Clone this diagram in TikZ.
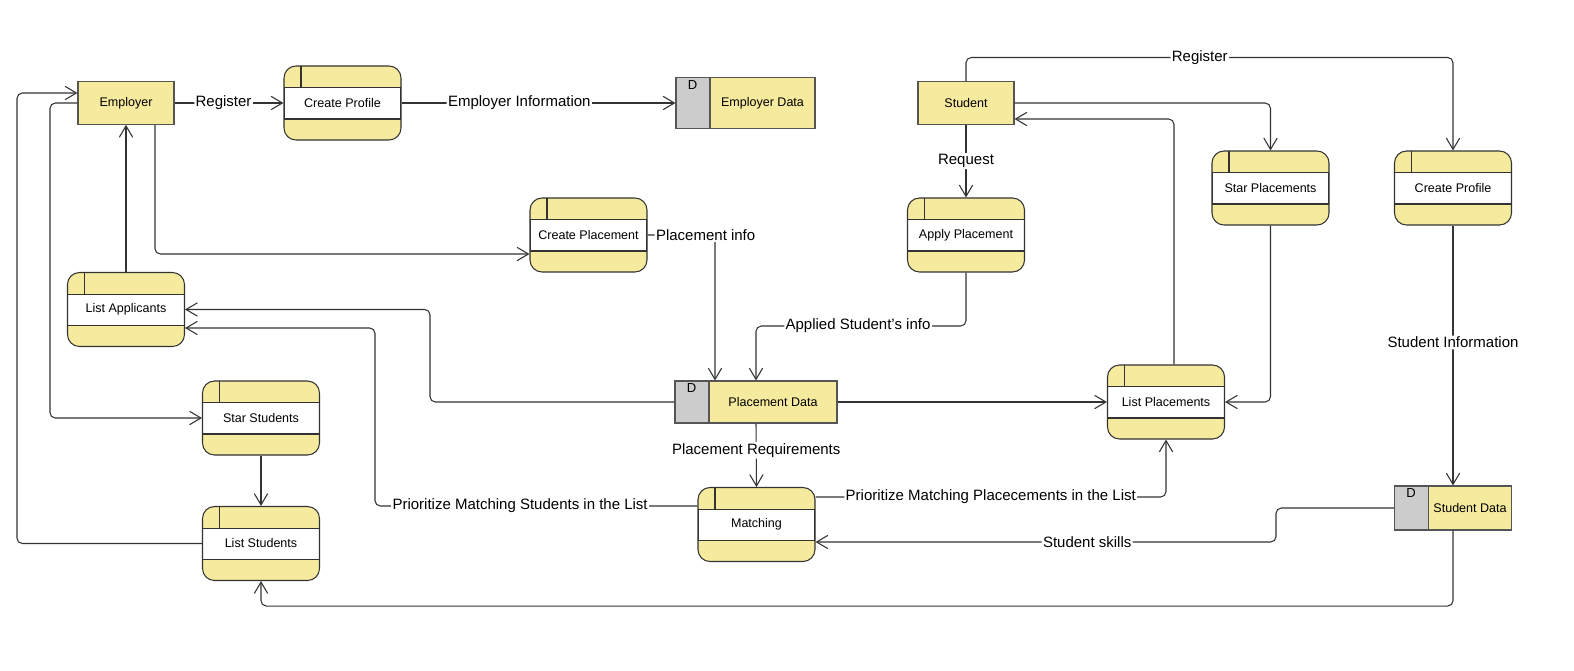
\documentclass[tikz,border=0pt]{standalone}
\usepackage{fontspec}
\setmainfont{Liberation Sans}
\usetikzlibrary{calc,positioning,arrows.meta}
\definecolor{dfdyellow}{RGB}{245,234,157}
\definecolor{dfdgray}{RGB}{204,204,204}
\definecolor{dfdline}{RGB}{51,51,51}
\definecolor{dfdbox}{RGB}{85,85,85}

\tikzset{
    entity/.style={draw=dfdbox, fill=dfdyellow, minimum width=72pt, minimum height=32pt,
        inner sep=0pt, font=\fontsize{9.4}{11}\selectfont},
    proc/.style={draw=dfdline, fill=dfdyellow, rounded corners=9pt, minimum width=87.75pt,
        minimum height=55.5pt, inner sep=0pt, font=\fontsize{9.4}{11}\selectfont,
        path picture={
            \coordinate (ppnw) at (path picture bounding box.north west);
            \coordinate (ppse) at (path picture bounding box.south east);
            \filldraw[fill=white, sharp corners] ($(ppnw)+(0pt,-16.2pt)$) rectangle ($(ppse)+(0pt,15.75pt)$);
            \draw[sharp corners] ($(ppnw)+(12.75pt,0pt)$) -- ++(0pt,-16.2pt);
        }},
    store/.style={draw=dfdbox, fill=dfdyellow, inner sep=0pt, font=\fontsize{9.4}{11}\selectfont,
        path picture={
            \coordinate (ppnw) at (path picture bounding box.north west);
            \coordinate (ppsw) at (path picture bounding box.south west);
            \filldraw[fill=dfdgray] (ppnw) rectangle ($(ppsw)+(25.5pt,0pt)$);
        }},
    dtag/.style={anchor=north, inner sep=0pt, font=\fontsize{9.8}{11}\selectfont},
    flow/.style={draw=dfdline, rounded corners=4pt, -{Straight Barb[length=8.5pt,width=10pt]}},
    lbl/.style={fill=white, inner sep=1pt, font=\fontsize{11.25}{13}\selectfont}
}

\begin{document}
\begin{tikzpicture}[x=0.75pt, y=-0.75pt, line width=0.8pt]
    \useasboundingbox (0,0) rectangle (1574,671);

    % entities
    \node[entity] (employer) at (126,103) {Employer};
    \node[entity] (student) at (966,103) {Student};

    % processes
    \node[proc] (cprofE) at (342.5,103) {Create Profile};
    \node[proc] (cplace) at (588.5,235) {Create Placement};
    \node[proc] (aplace) at (966,235) {Apply Placement};
    \node[proc] (lapp) at (126,309.5) {List Applicants};
    \node[proc] (sstud) at (261,418) {Star Students};
    \node[proc] (lstud) at (261,543.5) {List Students};
    \node[proc] (match) at (756.5,524.5) {Matching};
    \node[proc] (splace) at (1270.5,188) {Star Placements};
    \node[proc] (cprofS) at (1453,188) {Create Profile};
    \node[proc] (lplace) at (1166,402) {List Placements};

    % data stores
    \node[store, minimum width=104.25pt, minimum height=38.25pt] (edata) at (745.5,103)
        {\hspace*{25.5pt}Employer Data};
    \node[store, minimum width=121.5pt, minimum height=31.5pt] (pdata) at (756,402)
        {\hspace*{25.5pt}Placement Data};
    \node[store, minimum width=87.75pt, minimum height=33pt] (sdata) at (1453,508)
        {\hspace*{25.5pt}Student Data};
    \node[dtag] (edataD) at ($(edata.north west)+(17,3)$) {D};
    \node[dtag] (pdataD) at ($(pdata.north west)+(17,3)$) {D};
    \node[dtag] (sdataD) at ($(sdata.north west)+(17,3)$) {D};

    % employer side
    \draw[flow] (employer.east) -- node[lbl,pos=0.45] {Register} (cprofE.west);
    \draw[flow] (cprofE.east) -- node[lbl,pos=0.43] {Employer Information} (edata.west);
    \draw[flow] ($(employer.south)+(29,0)$) |- ($(cplace.west)+(0,19)$);
    \draw[flow] (lapp.north) -- (employer.south);
    \draw[flow] (employer.west) -| (50,418) -- (sstud.west);
    \draw[flow] (lstud.west) -| (17,93) -- ($(employer.west)+(0,-10)$);
    \draw[flow] (sstud.south) -- (lstud.north);
    \draw[flow] (pdata.west) -| (430,309.5) -- (lapp.east);
    \draw[flow] ($(match.west)+(0,-18.5)$) -- node[lbl,pos=0.55]
        {Prioritize Matching Students in the List} (375,506) |- ($(lapp.east)+(0,18.5)$);
    \draw[flow] (cplace.east) -| node[lbl,pos=0.5,xshift=-7pt] {Placement info}
        ($(pdata.north)+(-41,0)$);

    % student side
    \draw[flow] (student.south) -- node[lbl] {Request} (aplace.north);
    \draw[flow] (aplace.south) |- (858,326) node[lbl] {Applied Student's info} -| (pdata.north);
    \draw[flow] (pdata.south) -- node[lbl,pos=0.42] {Placement Requirements} (match.north);
    \draw[flow] (pdata.east) -- (lplace.west);
    \draw[flow] ($(match.east)+(0,-27.5)$) -| node[lbl,pos=0.25]
        {Prioritize Matching Placecements in the List} (lplace.south);
    \draw[flow] (sdata.west) -| (1276,542) -- node[lbl,pos=0.41] {Student skills}
        ($(match.east)+(0,17.5)$);
    \draw[flow] (sdata.south) |- ($(lstud.south)+(0,25)$) -- (lstud.south);
    \draw[flow] (cprofS.south) -- node[lbl,pos=0.45] {Student Information} (sdata.north);
    \draw[flow] (student.north) |- node[lbl,pos=0.74] {Register} ($(cprofS.north)+(0,-93)$)
        -- (cprofS.north);
    \draw[flow] (student.east) -| (splace.north);
    \draw[flow] ($(lplace.north)+(8,0)$) |- ($(student.east)+(0,16)$);
    \draw[flow] (splace.south) |- (lplace.east);
\end{tikzpicture}
\end{document}
